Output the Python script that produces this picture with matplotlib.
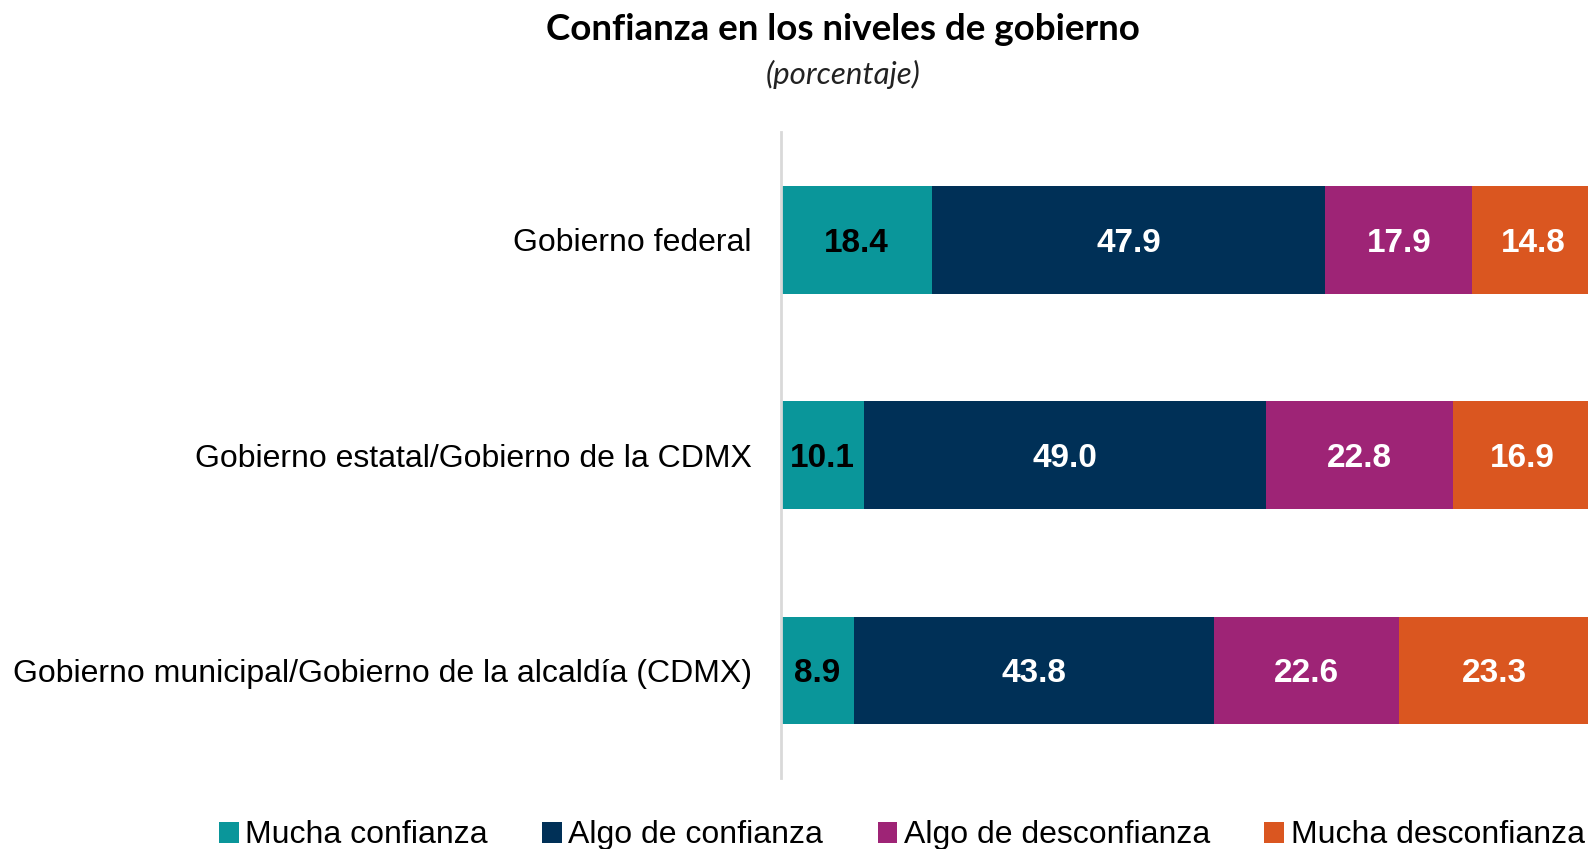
import numpy as np
import matplotlib.pyplot as plt
from matplotlib.patches import Patch

plt.rcParams['font.family'] = ['Liberation Sans', 'DejaVu Sans']

niveles = ['Gobierno federal',
           'Gobierno estatal/Gobierno de la CDMX',
           'Gobierno municipal/Gobierno de la alcaldía (CDMX)']
categorias = ['Mucha confianza', 'Algo de confianza',
              'Algo de desconfianza', 'Mucha desconfianza']
mucha_confianza = [18.4, 10.1, 8.9]
algo_confianza = [47.9, 49.0, 43.8]
algo_desconfianza = [17.9, 22.8, 22.6]
mucha_desconfianza = [14.8, 16.9, 23.3]

series = [mucha_confianza, algo_confianza, algo_desconfianza, mucha_desconfianza]
colores = ['#0A969A', '#003057', '#9E2476', '#DA5620']
color_texto = ['black', 'white', 'white', 'white']

fig = plt.figure(figsize=(15.88, 8.49), dpi=100)
ax = fig.add_axes([0.4918, 0.0836, 0.5082, 0.7609])

y = np.arange(len(niveles))
izq = np.zeros(len(niveles))
for valores, color, ctxt in zip(series, colores, color_texto):
    barras = ax.barh(y, valores, left=izq, height=0.5, color=color,
                     edgecolor='none')
    for b, v in zip(barras, valores):
        ax.text(b.get_x() + b.get_width() / 2, b.get_y() + b.get_height() / 2,
                f'{v:.1f}', ha='center', va='center_baseline', color=ctxt,
                fontsize=24, fontweight='bold')
    izq += np.array(valores)

ax.set_xlim(0, 98.3)
ax.set_ylim(2.5, -0.5)
ax.set_yticks(y)
ax.set_yticklabels(niveles, fontsize=23)
ax.tick_params(axis='y', length=0, pad=21)
ax.set_xticks([])
for lado in ['top', 'right', 'bottom']:
    ax.spines[lado].set_visible(False)
ax.spines['left'].set_color('#d9d9d9')
ax.spines['left'].set_linewidth(2)

fig.text(0.531, 0.965, 'Confianza en los niveles de gobierno', ha='center',
         va='center', fontsize=26.5, fontweight='bold', family=['Lato', 'DejaVu Sans'])
fig.text(0.531, 0.912, '(porcentaje)', ha='center', va='center', fontsize=22.5,
         style='italic', family=['Lato', 'DejaVu Sans'], color='#222222')

manijas = [Patch(facecolor=c, edgecolor='none') for c in colores]
fig.legend(manijas, categorias, ncol=4, loc='center left',
           bbox_to_anchor=(0.138, 0.016), frameon=False, fontsize=23,
           handlelength=0.62, handleheight=0.62, handletextpad=0.2,
           columnspacing=1.7, borderaxespad=0, borderpad=0)

fig.savefig('out.png', dpi=100)
